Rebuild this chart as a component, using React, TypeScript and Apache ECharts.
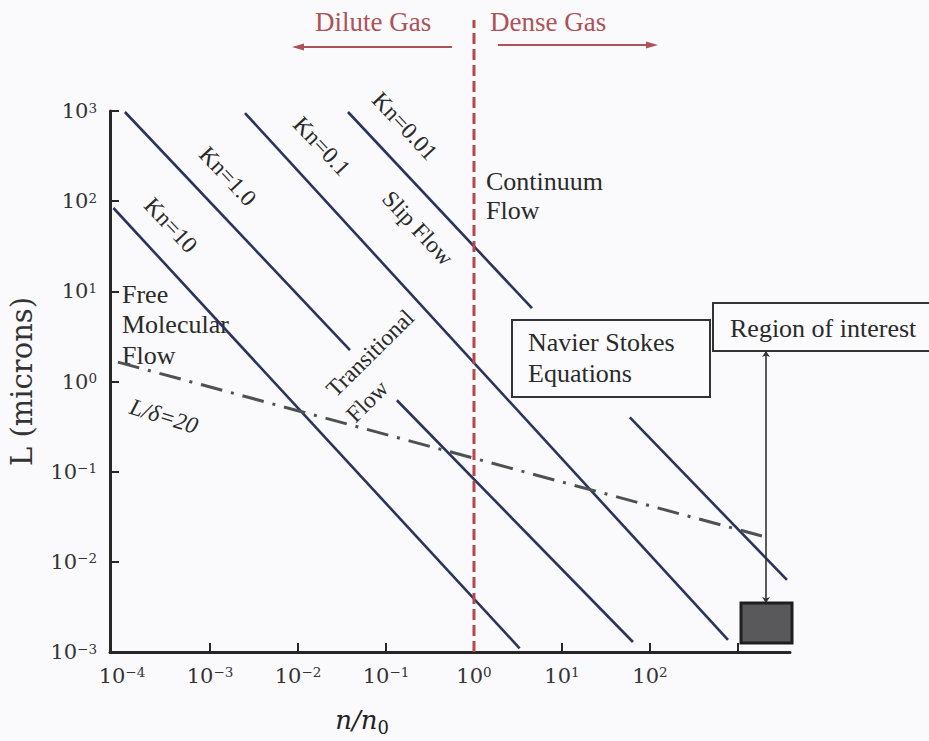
import React, { useEffect, useRef } from 'react';
import * as echarts from 'echarts';

// Axis ticks / labels (n/n0 and L in microns)
const xLabelValues = [1e-4, 1e-3, 1e-2, 1e-1, 1, 1e1, 1e2];
const xTickValues = [1e-3, 1e-2, 1e-1, 1, 1e1, 1e2, 1e3];
const yTickValues = [1e-3, 1e-2, 1e-1, 1, 1e1, 1e2, 1e3];

// Constant Knudsen number lines [n/n0, L]
const kn10 = [[8e-5, 84], [3.3, 1.1e-3]];
const kn1Upper = [[1.08e-4, 975], [0.039, 2.23]];
const kn1Lower = [[0.133, 0.62], [64, 1.29e-3]];
const kn01 = [[2.5e-3, 950], [770, 1.36e-3]];
const kn001Upper = [[0.037, 975], [4.56, 6.5]];
const kn001Lower = [[59, 0.4], [3600, 6.3e-3]];
// L/delta = 20
const spacingRatio20 = [[9e-5, 1.64], [2080, 0.0188]];
// dilute / dense boundary n/n0 = 1
const gasBoundary = [[1, 1e-3], [1, 1.02e4]];
// region of interest [x0, y0, x1, y1]
const regionOfInterest = [[1082, 1.26e-3, 4110, 3.49e-3]];
const regionPointer = [[2080, 2.18], [2080, 3.5e-3]];

const SERIF = 'Liberation Serif';
const MATH = 'DejaVu Serif';
const INK = '#2a2a2a';
const KN_COLOR = '#2b335c';
const RED = '#ad5257';

const powLabel = (v: number) => {
  const e = Math.round(Math.log10(v));
  return `{b|10}{s|${e < 0 ? '\u2212' + -e : e}}`;
};
const labelRich = {
  b: { fontFamily: MATH, fontSize: 21, lineHeight: 21, color: '#333' },
  s: { fontFamily: MATH, fontSize: 13.5, lineHeight: 14, verticalAlign: 'top', color: '#333' },
};

const knSeries = (name: string, data: number[][]) => ({
  type: 'line',
  name,
  data,
  symbol: 'none',
  showSymbol: false,
  silent: true,
  lineStyle: { color: KN_COLOR, width: 2.6 },
  z: 3,
});

const label = (text: string, x: number, y: number, rotation: number, extra: any = {}) => ({
  type: 'text',
  x,
  y,
  rotation,
  silent: true,
  style: {
    text,
    fontFamily: SERIF,
    fontSize: 23.5,
    fill: INK,
    align: 'center',
    verticalAlign: 'middle',
    ...extra,
  },
});

export default function App() {
  const ref = useRef<HTMLDivElement>(null);

  useEffect(() => {
    if (!ref.current) return;
    const chart = echarts.init(ref.current, undefined, { renderer: 'svg' });

    const option: any = {
      animation: false,
      backgroundColor: '#fafafc',
      textStyle: { fontFamily: SERIF },
      grid: {
        left: 110,
        right: 139,
        top: 111,
        bottom: 89,
        containLabel: false,
        outerBoundsMode: 'none',
      },
      xAxis: {
        type: 'log',
        logBase: 10,
        min: Math.pow(10, -4.136),
        max: Math.pow(10, 3.591),
        axisLine: { show: true, onZero: false, lineStyle: { color: '#262626', width: 3 } },
        axisTick: {
          show: true,
          inside: true,
          length: 9,
          customValues: xTickValues,
          lineStyle: { color: '#262626', width: 2 },
        },
        axisLabel: { customValues: xLabelValues, formatter: powLabel, margin: 13, rich: labelRich },
        splitLine: { show: false },
        minorTick: { show: false },
        name: '{i|n/n}{sub|0}',
        nameLocation: 'middle',
        nameGap: 52,
        nameTextStyle: {
          padding: [0, 176, 0, 0],
          rich: {
            i: { fontFamily: MATH, fontStyle: 'italic', fontSize: 26, lineHeight: 32, color: '#222' },
            sub: { fontFamily: MATH, fontSize: 18, lineHeight: 16, verticalAlign: 'bottom', color: '#222' },
          },
        },
      },
      yAxis: {
        type: 'log',
        logBase: 10,
        min: 1e-3,
        max: 1e3,
        axisLine: { show: true, onZero: false, lineStyle: { color: '#262626', width: 3 } },
        axisTick: {
          show: true,
          inside: true,
          length: 9,
          customValues: yTickValues,
          lineStyle: { color: '#262626', width: 2 },
        },
        axisLabel: { customValues: yTickValues, formatter: powLabel, margin: 13, rich: labelRich },
        splitLine: { show: false },
        minorTick: { show: false },
        name: 'L (microns)',
        nameLocation: 'middle',
        nameGap: 74,
        nameTextStyle: { fontFamily: MATH, fontSize: 29, color: '#333' },
      },
      series: [
        knSeries('Kn=10', kn10),
        knSeries('Kn=1.0', kn1Upper),
        knSeries('Kn=1.0 ', kn1Lower),
        knSeries('Kn=0.1', kn01),
        knSeries('Kn=0.01', kn001Upper),
        knSeries('Kn=0.01 ', kn001Lower),
        {
          type: 'line',
          name: 'L/δ=20',
          data: spacingRatio20,
          symbol: 'none',
          silent: true,
          lineStyle: { color: '#4e524e', width: 3, type: [22, 9, 3, 9] },
          z: 4,
        },
        {
          type: 'line',
          name: 'n/n0 = 1',
          data: gasBoundary,
          symbol: 'none',
          silent: true,
          clip: false,
          lineStyle: { color: '#b8474b', width: 3, type: [11, 5] },
          z: 5,
        },
        {
          type: 'lines',
          coordinateSystem: 'cartesian2d',
          silent: true,
          data: [{ coords: regionPointer }],
          symbol: ['arrow', 'arrow'],
          symbolSize: 6,
          lineStyle: { color: '#333', width: 1.6, opacity: 1 },
          z: 5,
        },
        {
          type: 'custom',
          coordinateSystem: 'cartesian2d',
          clip: false,
          silent: true,
          data: regionOfInterest,
          encode: { x: [0, 2], y: [1, 3] },
          renderItem: (params: any, api: any) => {
            const p0 = api.coord([api.value(0), api.value(3)]);
            const p1 = api.coord([api.value(2), api.value(1)]);
            return {
              type: 'rect',
              shape: { x: p0[0], y: p0[1], width: p1[0] - p0[0], height: p1[1] - p0[1] },
              style: { fill: '#59595c', stroke: '#1e1e20', lineWidth: 3 },
            };
          },
          z: 6,
        },
      ],
      graphic: [
        // dilute / dense annotation
        label('Dilute Gas', 315, 22, 0, { align: 'left', fontSize: 27, fill: RED }),
        label('Dense Gas', 490, 22, 0, { align: 'left', fontSize: 27, fill: RED }),
        { type: 'line', silent: true, shape: { x1: 300, y1: 47, x2: 452, y2: 47 }, style: { stroke: RED, lineWidth: 2 } },
        { type: 'polygon', silent: true, shape: { points: [[292, 47], [304, 43.5], [304, 50.5]] }, style: { fill: RED } },
        { type: 'line', silent: true, shape: { x1: 498, y1: 45, x2: 650, y2: 45 }, style: { stroke: RED, lineWidth: 2 } },
        { type: 'polygon', silent: true, shape: { points: [[658, 45], [646, 41.5], [646, 48.5]] }, style: { fill: RED } },
        // Kn labels
        label('Kn=10', 171, 225, -0.82),
        label('Kn=1.0', 228, 176, -0.82),
        label('Kn=0.1', 322, 146, -0.82),
        label('Kn=0.01', 405, 126, -0.82),
        label('Slip Flow', 418, 228, -0.82),
        label('Transitional', 370, 353, 0.78),
        label('Flow', 367, 401, 0.78),
        label('L/δ=20', 164, 416, -0.3, { fontStyle: 'italic' }),
        // regimes
        label('Free\nMolecular\nFlow', 122, 324.5, 0, { align: 'left', fontSize: 26, lineHeight: 30.5 }),
        label('Continuum\nFlow', 486, 196, 0, { align: 'left', fontSize: 26, lineHeight: 29 }),
        {
          type: 'rect',
          silent: true,
          shape: { x: 512, y: 320, width: 198, height: 77 },
          style: { fill: '#fbfbfd', stroke: '#333', lineWidth: 2 },
        },
        label('Navier Stokes\nEquations', 528, 358, 0, { align: 'left', fontSize: 26, lineHeight: 31 }),
        {
          type: 'rect',
          silent: true,
          shape: { x: 713, y: 303, width: 230, height: 48 },
          style: { fill: '#fbfbfd', stroke: '#333', lineWidth: 2 },
        },
        label('Region of interest', 730, 328, 0, { align: 'left', fontSize: 26 }),
      ],
    };

    chart.setOption(option);
    return () => chart.dispose();
  }, []);

  return (
    <div
      ref={ref}
      style={{ position: 'absolute', left: 0, top: 0, width: 929, height: 741 }}
    />
  );
}
